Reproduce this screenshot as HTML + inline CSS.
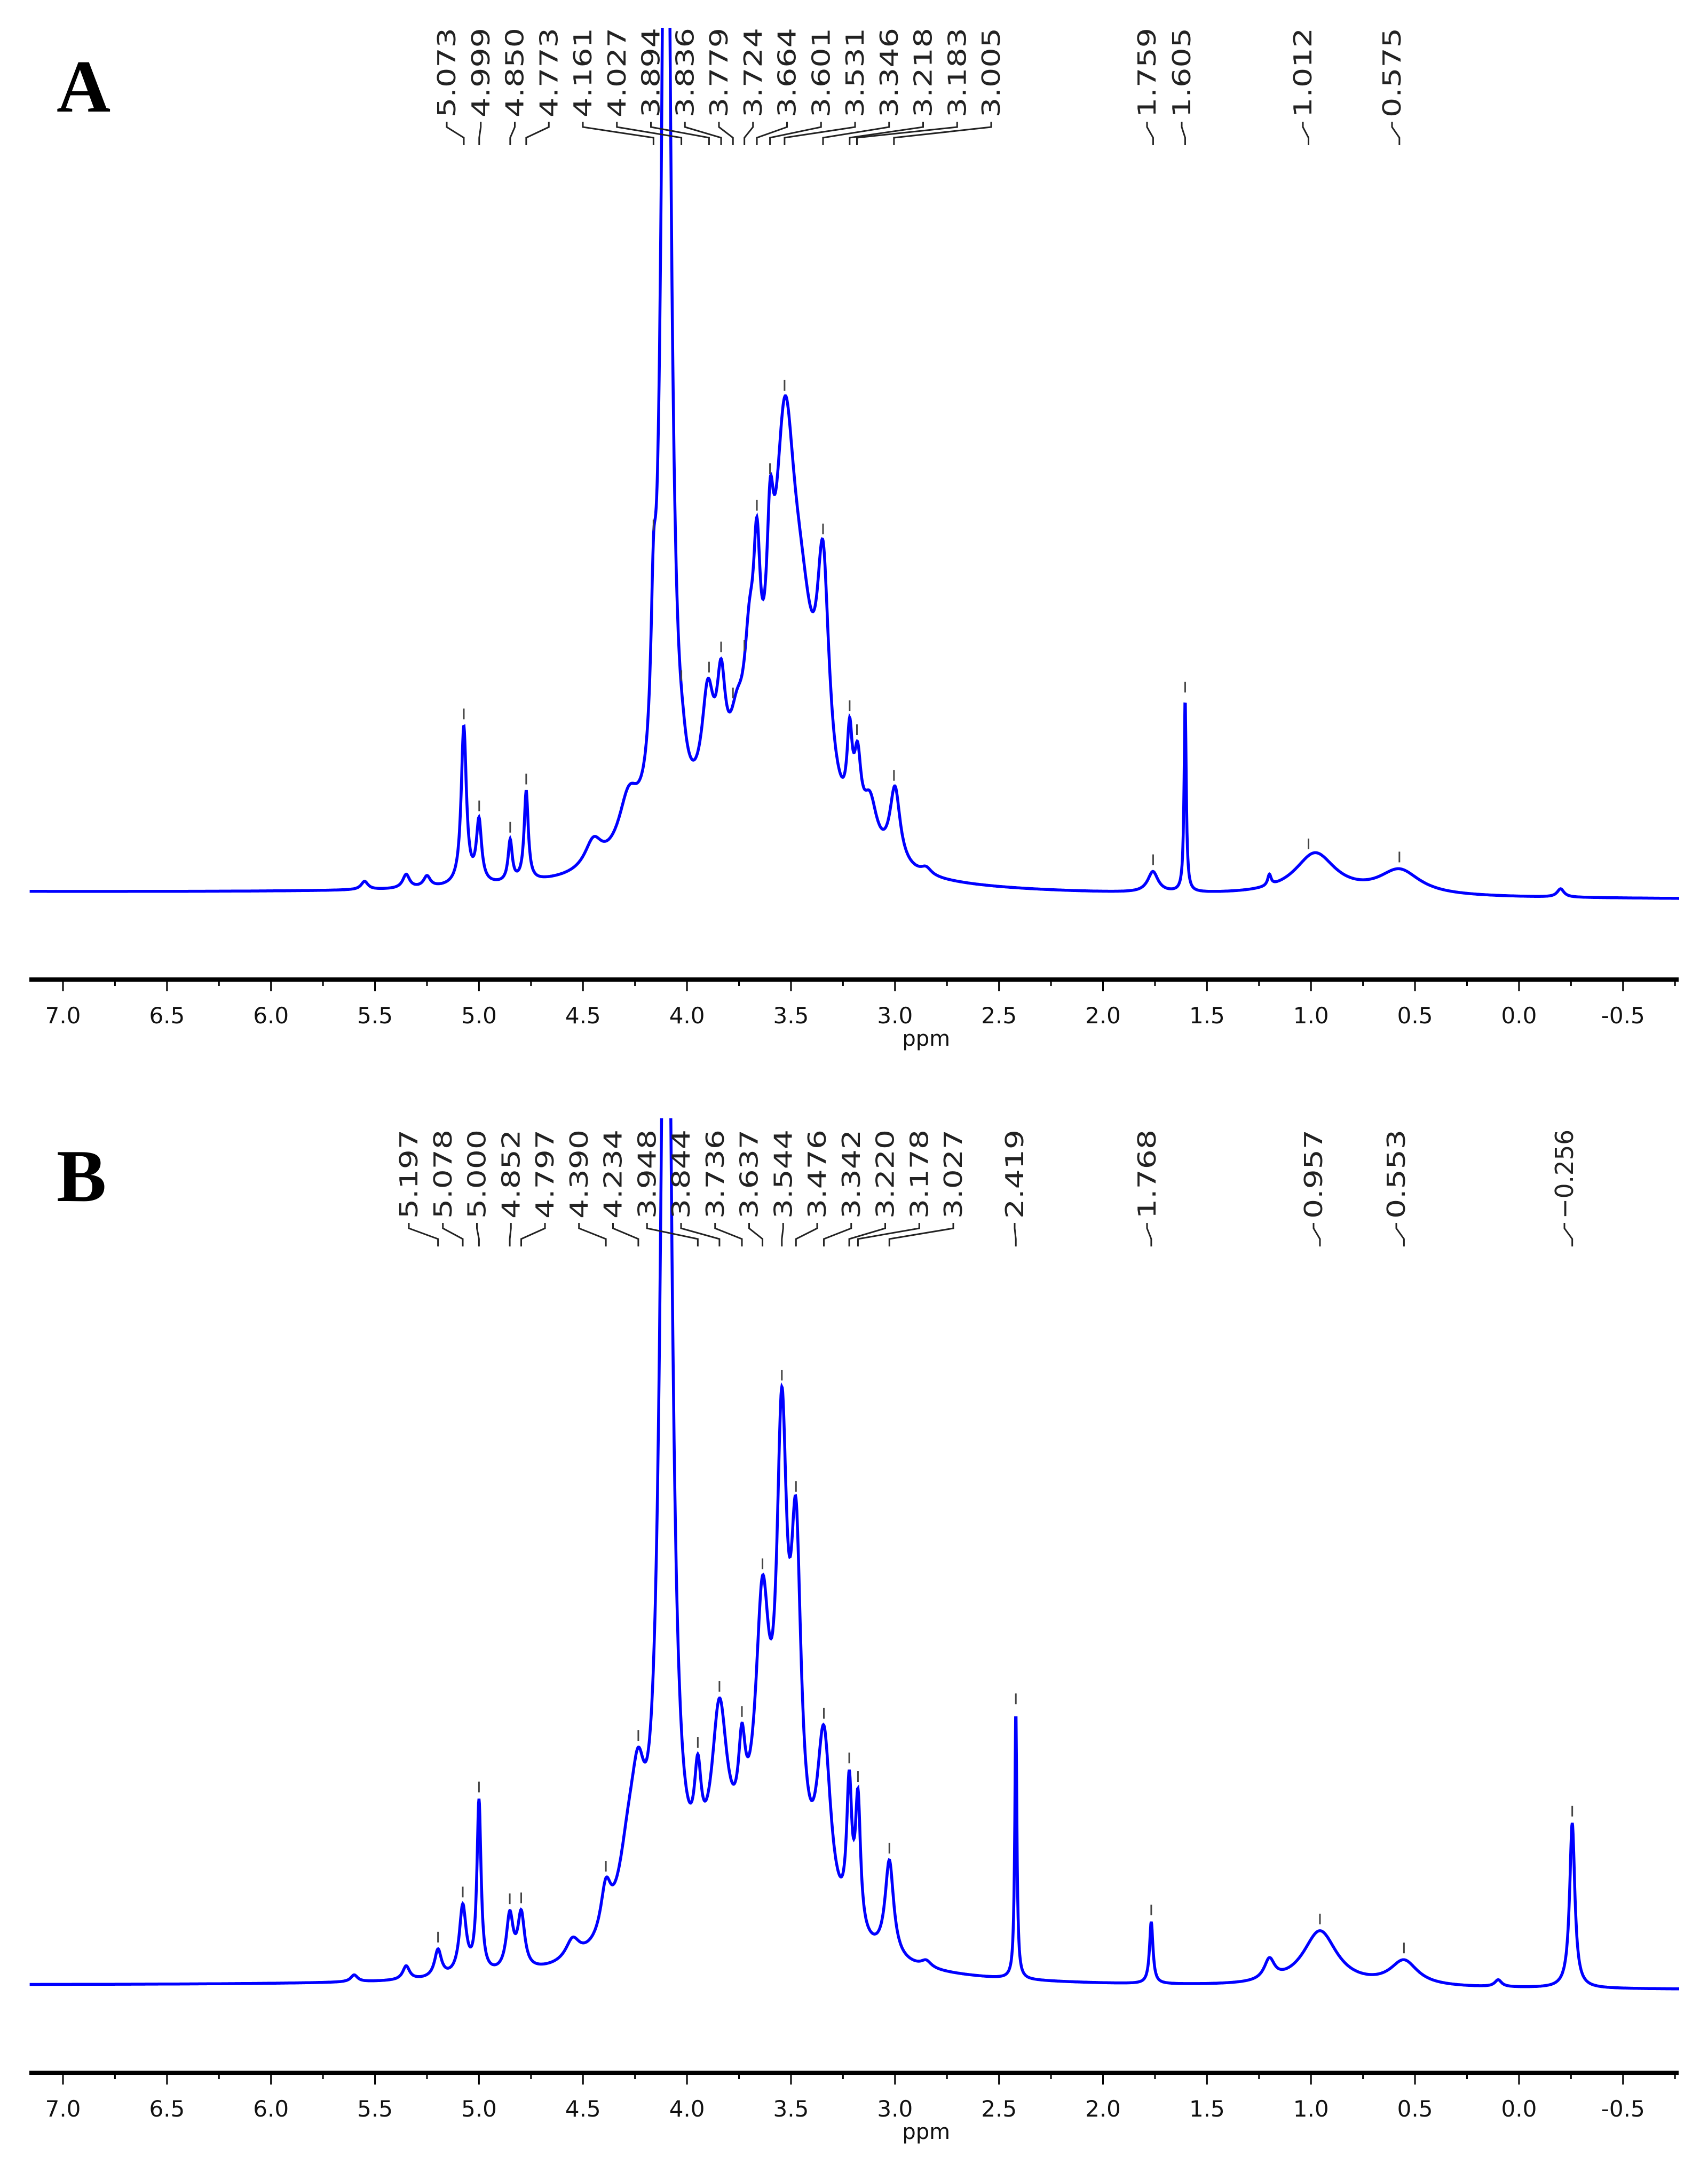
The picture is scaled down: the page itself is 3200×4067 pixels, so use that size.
<!DOCTYPE html>
<html><head><meta charset="utf-8">
<style>
html,body{margin:0;padding:0;background:#fff;}
svg{display:block;}
</style></head>
<body>
<svg id="fig" width="3200" height="4067" viewBox="0 0 3200 4067" xmlns="http://www.w3.org/2000/svg">
<rect width="3200" height="4067" fill="#fff"/>
<text x="106" y="209" font-family="Liberation Serif, serif" font-weight="bold" font-size="140">A</text>
<text x="106" y="2250" font-family="Liberation Serif, serif" font-weight="bold" font-size="140">B</text>
<g id="panelA"></g>
<g id="panelB"></g>
</svg>
<script>
// Panel A peaks: centers (ppm), heights (overview units), half-widths (ppm)
const peaksA_c = [5.073,5.0,4.85,4.773,5.55,5.35,5.25,4.45,4.28,4.161,4.10,4.02,3.9,3.836,3.76,3.70,3.664,3.60,3.53,3.45,3.346,3.218,3.18,3.12,3.0,3.7,2.85,1.76,1.605,1.2,0.98,0.575,-0.2];
const peaksA_h = [115,45,30,65,6,10,8,20,40,95,900,10,75,70,35,70,115,100,240,110,160,60,50,35,55,55,5,15,140,8,30,18,6];
const peaksA_w = [0.015,0.015,0.012,0.012,0.02,0.02,0.02,0.05,0.06,0.015,0.025,0.02,0.035,0.025,0.04,0.03,0.02,0.02,0.06,0.08,0.035,0.015,0.02,0.04,0.03,0.35,0.03,0.03,0.006,0.01,0.12,0.12,0.02];
const labelsA = ["5.073","4.999","4.850","4.773","4.161","4.027","3.894","3.836","3.779","3.724","3.664","3.601","3.531","3.346","3.218","3.183","3.005"];
const singlesA = ["1.759","1.605","1.012","0.575"];

const peaksB_c = [5.197,5.078,5.0,4.852,4.797,5.35,5.6,4.55,4.39,4.28,4.234,4.10,3.948,3.844,3.736,3.637,3.544,3.476,3.342,3.220,3.178,3.027,3.7,2.85,2.419,1.768,1.2,0.957,0.553,-0.256,0.1];
const peaksB_h = [20,50,125,40,40,10,5,15,35,55,70,900,60,120,60,180,300,230,130,100,95,70,70,5,195,45,15,40,18,120,5];
const peaksB_w = [0.02,0.02,0.012,0.02,0.02,0.02,0.02,0.04,0.03,0.06,0.04,0.03,0.02,0.045,0.02,0.04,0.03,0.03,0.04,0.015,0.015,0.025,0.35,0.03,0.006,0.01,0.03,0.1,0.08,0.015,0.02];
const labelsB = ["5.197","5.078","5.000","4.852","4.797","4.390","4.234","3.948","3.844","3.736","3.637","3.544","3.476","3.342","3.220","3.178","3.027"];
const singlesB = ["2.419","1.768","0.957","0.553","-0.256"];

const ticks = [7.0,6.5,6.0,5.5,5.0,4.5,4.0,3.5,3.0,2.5,2.0,1.5,1.0,0.5,0.0,-0.5];
const tickLabels = ["7.0","6.5","6.0","5.5","5.0","4.5","4.0","3.5","3.0","2.5","2.0","1.5","1.0","0.5","0.0","-0.5"];

const NS="http://www.w3.org/2000/svg";
const xS = p => 118 + (7 - p) * 389.7;
function el(tag, attrs, parent){const e=document.createElementNS(NS,tag);for(const k in attrs)e.setAttribute(k,attrs[k]);parent.appendChild(e);return e;}
function intensity(p,C,H,W){let s=0;for(let i=0;i<C.length;i++){const d=p-C[i];s+=H[i]*W[i]*W[i]/(d*d+W[i]*W[i]);}return s;}

function drawPanel(g, id, C,H,W, base0, base1, clipTop, labels, labelX0, singles, singleX, txtTop, txtBot, axisY){
  const sc=2.58;
  const base = p => base0 + (base1-base0)*(7.16-p)/(7.16+0.77);
  const yS = (p,v) => base(p) - v*sc;
  const cp=el('clipPath',{id:'clip'+id},g);
  el('rect',{x:40,y:clipTop,width:3120,height:axisY-clipTop},cp);
  let d='';
  for(let p=7.16;p>=-0.77;p-=0.002){
    d+=(d?'L':'M')+xS(p).toFixed(1)+','+yS(p,intensity(p,C,H,W)).toFixed(1);
  }
  const path=el('path',{d:d,fill:'none',stroke:'#0000ff','stroke-width':5.5,'clip-path':'url(#clip'+id+')'},g);
  
  
  const all = labels.map((l,i)=>({t:l,x:labelX0+i*63.75})).concat(singles.map((l,i)=>({t:l,x:singleX[i]})));
  all.forEach(o=>{
    const pv=parseFloat(o.t), px=xS(pv);
    const t=el('text',{x:0,y:0,transform:'translate('+(o.x+16)+','+txtBot+') rotate(-90)','font-family':'DejaVu Sans, sans-serif','font-size':46,fill:'#222',textLength:txtBot-txtTop,lengthAdjust:'spacingAndGlyphs'},g);
    t.textContent=(o.t.startsWith('-')?'\u2212':'')+o.t.replace('-','');
    
    
    const pl=el('polyline',{points:o.x+','+(txtBot+8)+' '+o.x+','+(txtBot+18)+' '+px+','+(txtBot+38)+' '+px+','+(txtBot+52),fill:'none',stroke:'#222','stroke-width':3},g);
    
    
    const py=yS(pv,intensity(pv,C,H,W));
    if(py>clipTop+40){
      const tk=el('line',{x1:px,y1:py-12,x2:px,y2:py-32,stroke:'#444','stroke-width':3},g);
      
      
    }
  });
  const ax=el('line',{x1:55,y1:axisY,x2:3145,y2:axisY,stroke:'#000','stroke-width':8},g);
  
  
  for(let v=7.25;v>=-0.76;v-=0.25){
    const major=Math.abs(v*2-Math.round(v*2))<1e-6;
    if(xS(v)<55||xS(v)>3150)continue;
    const tl=el('line',{x1:xS(v),y1:axisY,x2:xS(v),y2:axisY+(major?22:12),stroke:'#000','stroke-width':3},g);
    
    
  }
  ticks.forEach((v,i)=>{
    const t=el('text',{x:xS(v),y:axisY+82,'text-anchor':'middle','font-family':'DejaVu Sans, sans-serif','font-size':42,fill:'#111'},g);
    t.textContent=tickLabels[i];
    
    
  });
  const at=el('text',{x:xS(2.85),y:axisY+124,'text-anchor':'middle','font-family':'DejaVu Sans, sans-serif','font-size':40,fill:'#111'},g);
  at.textContent='ppm';
  
  
}
drawPanel(document.getElementById('panelA'),'A',peaksA_c,peaksA_h,peaksA_w,1672,1685,52,labelsA,837,singlesA,[2149,2214,2441,2608],52,220,1835);
drawPanel(document.getElementById('panelB'),'B',peaksB_c,peaksB_h,peaksB_w,3720,3728,2095,labelsB,766,singlesB,[1901,2149,2461,2616,2931],2116,2283,3883);
</script>
</body></html>
